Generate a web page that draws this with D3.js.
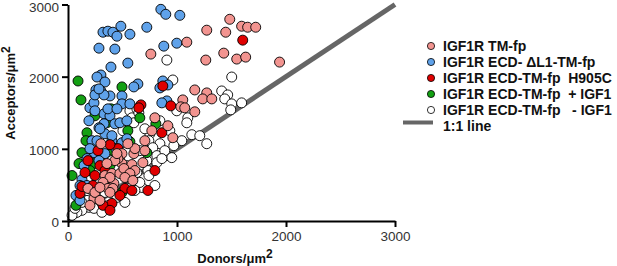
<!DOCTYPE html>
<html>
<head>
<meta charset="utf-8">
<script src="https://cdn.jsdelivr.net/npm/d3@7"></script>
<style>
  body { margin: 0; background: #fff; }
  svg { display: block; }
</style>
</head>
<body>
<div id="chart-area"></div>
<script>
// series: [donors, acceptors] per um^2
const tmFp = [
  [1484,2795],[1593,2699],[1648,2685],[1722,2685],[1273,2644],[1447,2616],[1090,2478],[1429,2326],
  [1548,2244],[1630,2271],[1264,2230],[1941,2202],[760,2313],[1163,1816],[1053,1678],[1273,1775],
  [1236,1692],[1319,1692],[1035,1582],[1071,1568],[1163,1513],[916,1320],[962,1154],[797,1430],
  [302,1071],[495,934],[604,934],[495,796],[586,782],[687,809],[339,630],[403,658],[476,658],
  [339,520],[421,520],[238,313],[183,451],[247,396],[614,699],[513,727],[614,1003],[705,975],
  [458,865],[430,837],[357,796],[568,658],[522,603],[385,603],[321,534],[366,451],[412,451],
  [293,285],[385,396],[293,465],[449,934],[549,1071],[705,1113],[769,1251],[595,561],[201,217]
]
const ecdDL1 = [
  [852,2933],[897,2864],[1026,2850],[321,2616],[366,2630],[412,2616],[449,2561],[485,2699],
  [568,2588],[723,2685],[284,2395],[430,2382],[879,2423],[998,2464],[549,2188],[394,2133],
  [302,2023],[266,1995],[339,1926],[256,1816],[302,1802],[385,1733],[201,1568],[238,1637],
  [495,1733],[495,1623],[641,1899],[604,1858],[870,1940],[843,1844],[916,1885],[907,1664],
  [861,1637],[247,1747],[330,1747],[284,1830],[330,1485],[385,1458],[430,1347],[476,1361],
  [330,1347],[284,1292],[339,1209],[220,1113],[266,1113],[403,1113],[495,1085],[540,1140],
  [403,1182],[238,947],[174,865],[339,934],[284,837],[128,575],[110,492],[174,492],[247,1527],
  [366,1554],[449,1554],[568,1623],[540,1389],[192,1389],[293,1278],[201,1003],[147,768],
  [440,1003],[73,354],[110,285]
]
const ecdH905C = [
  [1603,2506],[669,1609],[650,1568],[943,1596],[861,1223],[870,1871],[797,699],[403,244],
  [321,217],[385,148],[110,382],[229,492],[293,768],[458,1003],[183,837],[522,451],[385,1058],
  [156,672],[586,423],[247,630],[339,699],[128,479],[733,423],[476,354],[275,975]
]
const ecdPlusIGF1 = [
  [92,1940],[119,1678],[495,1858],[394,1554],[659,1430],[806,1347],[174,1223],[357,1361],
  [568,1099],[128,947],[238,796],[101,796],[495,396],[723,947],[201,699],[73,217],[412,975],
  [37,630],[247,1458],[385,768],[549,1251],[165,1113]
]
const ecdMinusIGF1 = [
  [907,2230],[962,1954],[1502,1995],[1410,1802],[1465,1747],[1438,1692],[1502,1623],[1593,1637],
  [1493,1540],[1099,1430],[1090,1361],[1044,1113],[1136,1196],[1209,1182],[1273,1071],[934,1251],
  [568,1527],[632,1554],[586,1430],[650,1499],[604,1361],[751,1209],[742,1113],[843,1071],
  [778,1016],[659,975],[907,906],[952,878],[815,906],[723,837],[815,809],[678,465],[522,258],
  [733,699],[632,672],[888,975],[861,865],[284,947],[375,878],[568,589],[742,630],[192,189],
  [128,148],[82,120],[174,285],[238,175],[375,217],[449,327],[110,354],[128,258],[37,79],
  [64,175],[476,837],[540,768],[430,1044],[705,1278],[843,1389],[998,1527],[339,396],[659,534],
  [311,120],[220,423],[403,837],[971,1044],[614,423],[797,492],[174,699],[266,589],[504,1251]
]

const seriesNames = ["IGF1R TM-fp", "IGF1R ECD- \u0394L1-TM-fp", "IGF1R ECD-TM-fp  H905C",
  "IGF1R ECD-TM-fp  + IGF1", "IGF1R ECD-TM-fp   - IGF1"]
const seriesColors = ["#f29490", "#5fa2ea", "#e00000", "#13a013", "#ffffff"]
const seriesData = [tmFp, ecdDL1, ecdH905C, ecdPlusIGF1, ecdMinusIGF1]
const drawOrder = [4, 3, 1, 2, 0]

const xTicks = [0, 1000, 2000, 3000]
const yTicks = [0, 1000, 2000, 3000]
const unityLine = [[0, 0], [3000, 3000]]

const svgWidth = 617
const svgHeight = 266

const svg = d3.select("#chart-area")
  .append("svg")
  .attr("width", svgWidth)
  .attr("height", svgHeight)
  .style("font-family", "'Liberation Sans', Arial, Helvetica, sans-serif")

const xScale = d3.scaleLinear().domain([0, 3000]).range([68, 395])
const yScale = d3.scaleLinear().domain([0, 3000]).range([221, 4.5])

// 1:1 line underneath the points
svg.append("line")
  .attr("x1", xScale(unityLine[0][0]))
  .attr("y1", yScale(unityLine[0][1]))
  .attr("x2", xScale(unityLine[1][0]))
  .attr("y2", yScale(unityLine[1][1]))
  .attr("stroke", "#666")
  .attr("stroke-width", 5)

drawOrder.forEach(i => {
  svg.append("g")
    .selectAll("circle")
    .data(seriesData[i])
    .join("circle")
    .attr("cx", d => xScale(d[0]))
    .attr("cy", d => yScale(d[1]))
    .attr("r", 5)
    .attr("fill", seriesColors[i])
    .attr("stroke", "#000")
    .attr("stroke-width", 0.9)
})

// axes
const fmt = d3.format("d")
const xAxis = svg.append("g")
  .attr("transform", `translate(0,${yScale(0)})`)
  .call(d3.axisBottom(xScale).tickValues(xTicks).tickFormat(fmt).tickSize(6).tickSizeOuter(0).tickPadding(4))
const yAxis = svg.append("g")
  .attr("transform", `translate(${xScale(0)},0)`)
  .call(d3.axisLeft(yScale).tickValues(yTicks).tickFormat(fmt).tickSize(6).tickSizeOuter(0).tickPadding(3))

;[xAxis, yAxis].forEach(ax => {
  ax.select(".domain").attr("stroke", "#000").attr("stroke-width", 2)
  ax.selectAll(".tick line").attr("stroke", "#000").attr("stroke-width", 2)
  ax.selectAll(".tick text")
    .attr("font-size", 13.5)
    .attr("font-family", "'Liberation Sans', Arial, sans-serif")
    .attr("fill", "#333")
})
yAxis.selectAll(".tick text").attr("dy", d => d === 3000 ? "0.55em" : "0.4em")

// axis titles
const xTitle = svg.append("text")
  .attr("x", 235)
  .attr("y", 263)
  .attr("text-anchor", "middle")
  .attr("font-size", 13)
  .attr("font-weight", "bold")
  .attr("fill", "#111")
xTitle.append("tspan").text("Donors/\u03bcm")
xTitle.append("tspan").attr("dy", -5).attr("font-size", 12).text("2")

const yTitle = svg.append("text")
  .attr("transform", `translate(15,${93}) rotate(-90)`)
  .attr("text-anchor", "middle")
  .attr("font-size", 13)
  .attr("font-weight", "bold")
  .attr("fill", "#111")
yTitle.append("tspan").text("Acceptors/\u03bcm")
yTitle.append("tspan").attr("dy", -5).attr("font-size", 12).text("2")

// legend
const legend = svg.append("g").attr("transform", "translate(431,46)")
seriesNames.forEach((name, i) => {
  const row = legend.append("g").attr("transform", `translate(0,${i * 16})`)
  row.append("circle")
    .attr("r", 3.6)
    .attr("fill", seriesColors[i])
    .attr("stroke", "#000")
    .attr("stroke-width", 0.8)
  row.append("text")
    .attr("x", 12)
    .attr("dy", "0.36em")
    .attr("font-size", 14)
    .attr("font-weight", "bold")
    .attr("fill", "#111")
    .style("white-space", "pre")
    .text(name)
})
legend.append("line")
  .attr("x1", -28).attr("x2", 2)
  .attr("y1", 76.5).attr("y2", 76.5)
  .attr("stroke", "#666")
  .attr("stroke-width", 4)
legend.append("text")
  .attr("x", 12)
  .attr("y", 80)
  .attr("dy", "0.36em")
  .attr("font-size", 14)
  .attr("font-weight", "bold")
  .attr("fill", "#111")
  .text("1:1 line")
</script>
</body>
</html>
